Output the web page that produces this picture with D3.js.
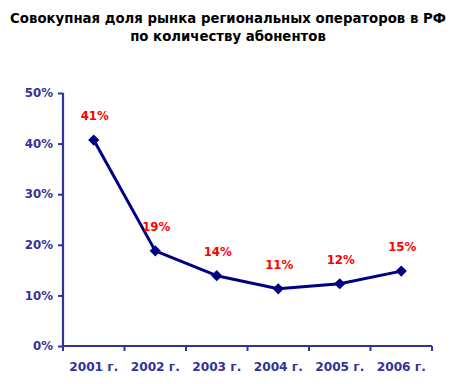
<!DOCTYPE html>
<html><head><meta charset="utf-8">
<script src="https://cdn.jsdelivr.net/npm/d3@7"></script>
<style>body{margin:0;background:#fff}svg{display:block}</style>
</head><body>
<svg id="c" width="454" height="384"></svg>
<script>
const categories = ["2001 г.","2002 г.","2003 г.","2004 г.","2005 г.","2006 г."];
const values = [0.407, 0.188, 0.139, 0.113, 0.123, 0.148];
const valueLabels = ["41%","19%","14%","11%","12%","15%"];
const yTicks = [0,0.1,0.2,0.3,0.4,0.5];
const titleLines = ["Совокупная доля рынка региональных операторов в РФ","по количеству абонентов"];

(function(){
const svg = d3.select("#c");
const font = "'DejaVu Sans', Verdana, sans-serif";
const axisColor = "#333399";
const pl = 63, pr = 432, pt = 93, pb = 346;

const x = d3.scaleBand().domain(categories).range([pl, pr]);
const y = d3.scaleLinear().domain([0,0.5]).range([pb, pt]);

svg.selectAll("text.title").data(titleLines).join("text").attr("class","title")
  .attr("x", 228).attr("y", (d,i)=>23 + i*18)
  .attr("text-anchor","middle").attr("font-family",font).attr("font-weight","bold")
  .attr("font-size","13.3px").attr("fill","#000").text(d=>d);

// y axis
const ya = svg.append("g").attr("transform",`translate(${pl},0)`)
  .call(d3.axisLeft(y).tickValues(yTicks).tickFormat(d3.format(".0%")).tickSize(5).tickPadding(5));
ya.select(".domain").attr("stroke",axisColor).attr("stroke-width",2.2).attr("d",`M0,${pt}V${pb}`);
ya.selectAll(".tick line").attr("stroke",axisColor).attr("stroke-width",2);
ya.selectAll(".tick text").attr("fill",axisColor).attr("font-family",font).attr("font-weight","bold").attr("font-size","11.8px");

// x axis
const xa = svg.append("g").attr("transform",`translate(0,${pb})`)
  .call(d3.axisBottom(x).tickSize(0).tickPadding(16));
xa.select(".domain").attr("stroke",axisColor).attr("stroke-width",2.2).attr("d",`M${pl},0H${pr}`);
xa.selectAll(".tick text").attr("fill",axisColor).attr("font-family",font).attr("font-weight","bold").attr("font-size","12.2px");
const bounds = categories.map(c=>x(c)).concat([pr]);
xa.selectAll("line.sep").data(bounds).join("line").attr("class","sep")
  .attr("x1",d=>d).attr("x2",d=>d).attr("y1",0).attr("y2",5)
  .attr("stroke",axisColor).attr("stroke-width",2);

const cx = c => x(c) + x.bandwidth()/2;
const line = d3.line().x((d,i)=>cx(categories[i])).y(d=>y(d));
svg.append("path").datum(values).attr("d",line).attr("fill","none")
  .attr("stroke","#000080").attr("stroke-width",3).attr("stroke-linejoin","round");

svg.selectAll("path.m").data(values).join("path").attr("class","m")
  .attr("d", d3.symbol().type(d3.symbolDiamond2).size(80))
  .attr("transform",(d,i)=>`translate(${cx(categories[i])},${y(d)})`)
  .attr("fill","#000080");

svg.selectAll("text.lab").data(values).join("text").attr("class","lab")
  .attr("x",(d,i)=>cx(categories[i])+1).attr("y",d=>y(d)-20)
  .attr("text-anchor","middle").attr("font-family",font).attr("font-weight","bold")
  .attr("font-size","11.8px").attr("fill","#ff0000").text((d,i)=>valueLabels[i]);
})();
</script>
</body></html>
